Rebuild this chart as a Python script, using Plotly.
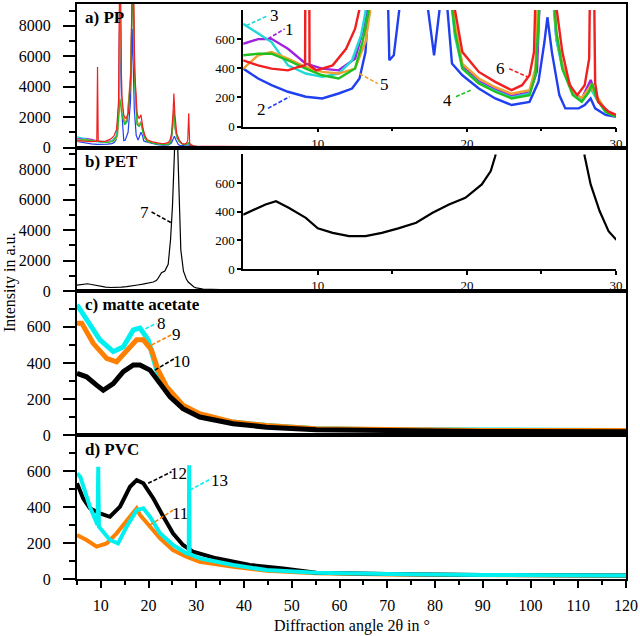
import plotly.graph_objects as go

FONT = "Liberation Serif"

# ---------------- data ----------------
# a) PP samples 1-6
pp1_x = [5, 6, 6.9, 8, 9.2, 10.3, 11.4, 12.5, 13.0, 13.3, 13.7, 14.0, 14.4, 15.0, 15.5, 16.2, 16.7, 17.1, 17.6, 18.0, 18.4, 18.8, 19.2, 19.7, 20.8, 21.9, 23.0, 24.2, 24.7, 25.0, 25.3, 25.6, 26.0, 26.4, 27.1, 27.7, 28.3, 28.7, 29.3, 30, 35, 40, 50]
pp1_y = [568, 600, 602, 534, 432, 398, 386, 466, 648, 807, 2500, 10500, 2800, 1600, 1800, 4500, 12000, 4500, 1600, 1500, 1700, 1100, 650, 420, 310, 255, 210, 235, 380, 1200, 2400, 1200, 600, 420, 240, 190, 320, 200, 110, 70, 60, 55, 45]

pp2_x = [5, 6, 6.9, 8, 9.2, 10.3, 11.4, 12.3, 12.8, 13.2, 13.5, 13.8, 14.05, 14.35, 14.8, 15.1, 15.7, 16.2, 16.6, 17.0, 17.4, 17.8, 18.1, 18.4, 18.7, 19.0, 19.7, 20.8, 21.9, 23.0, 24.2, 24.8, 25.2, 25.4, 25.7, 26.2, 26.6, 27.5, 27.9, 28.3, 28.6, 29.3, 30, 35, 40, 50]
pp2_y = [398, 330, 284, 239, 205, 193, 227, 261, 330, 511, 1000, 3000, 7600, 2500, 455, 489, 1000, 3000, 7800, 2500, 800, 489, 800, 1000, 800, 432, 352, 261, 193, 148, 170, 307, 580, 750, 511, 216, 125, 125, 148, 193, 125, 80, 68, 55, 50, 40]

pp3_x = [5, 6, 6.9, 8, 9.2, 10.3, 11.4, 12.3, 12.9, 13.2, 13.7, 14.0, 14.4, 15.0, 15.5, 16.2, 16.7, 17.1, 17.6, 18.0, 18.4, 18.8, 19.2, 19.7, 20.8, 21.9, 23.0, 24.2, 24.6, 25.0, 25.3, 25.6, 26.0, 26.4, 27.1, 27.7, 28.3, 28.7, 29.3, 30, 35, 40, 50]
pp3_y = [705, 640, 580, 420, 364, 341, 364, 455, 625, 784, 2300, 9800, 2600, 1500, 1700, 4300, 11500, 4300, 1500, 1400, 1600, 1000, 620, 400, 300, 245, 200, 225, 360, 1100, 2300, 1100, 600, 400, 230, 175, 260, 190, 100, 70, 60, 55, 45]

pp4_x = [5, 6, 6.9, 8, 9.2, 10.3, 11.4, 12.5, 13.0, 13.4, 13.7, 14.0, 14.35, 15.0, 15.5, 16.2, 16.7, 17.1, 17.6, 18.0, 18.4, 18.8, 19.2, 19.7, 20.8, 21.9, 23.0, 24.2, 24.6, 24.9, 25.3, 25.6, 26.0, 26.4, 27.1, 27.7, 28.2, 28.4, 28.7, 29.3, 30, 35, 40, 50]
pp4_y = [489, 500, 500, 455, 398, 352, 330, 398, 580, 784, 1800, 3200, 2200, 1500, 1700, 4300, 11000, 4300, 1500, 1400, 1600, 1000, 650, 398, 296, 239, 193, 216, 352, 900, 2500, 1200, 650, 398, 216, 170, 239, 296, 193, 102, 68, 60, 55, 45]

pp5_x = [5, 6, 6.9, 8, 9.2, 10.3, 11.4, 12.5, 13.2, 13.5, 13.8, 14.05, 14.4, 15.0, 15.5, 16.2, 16.7, 17.1, 17.6, 18.0, 18.4, 18.8, 19.2, 19.7, 20.8, 21.9, 23.0, 24.2, 24.6, 24.9, 25.3, 25.6, 26.0, 26.4, 27.1, 27.7, 28.3, 28.7, 29.3, 30, 35, 40, 50]
pp5_y = [398, 489, 511, 466, 409, 375, 364, 398, 580, 784, 2500, 11000, 2800, 1700, 1900, 4800, 12500, 4800, 1700, 1500, 1650, 1100, 700, 430, 330, 270, 225, 250, 400, 1000, 2500, 1200, 650, 420, 240, 195, 280, 210, 115, 75, 62, 57, 47]

pp6_x = [5, 6, 6.9, 8, 8.7, 9.15, 9.3, 9.45, 9.9, 11.0, 11.9, 12.5, 12.8, 13.3, 13.7, 14.0, 14.35, 14.8, 15.3, 15.8, 16.3, 16.7, 17.1, 17.6, 18.0, 18.4, 18.8, 19.2, 19.7, 20.8, 21.9, 23.0, 23.7, 24.2, 24.5, 24.8, 25.1, 25.3, 25.5, 25.9, 26.4, 26.9, 27.4, 27.9, 28.2, 28.4, 28.6, 28.8, 29.5, 30, 35, 40, 50]
pp6_y = [455, 420, 398, 386, 409, 420, 5300, 420, 386, 420, 534, 670, 807, 1200, 3000, 14000, 3500, 2100, 1900, 2300, 5000, 14000, 5000, 2200, 1900, 2150, 1300, 800, 511, 375, 307, 250, 284, 352, 511, 900, 2200, 3550, 2200, 900, 511, 284, 216, 284, 466, 2250, 300, 170, 102, 80, 70, 60, 50]

# b) PET sample 7
pet_x = [5, 6.5, 7.2, 8.05, 9.2, 10.0, 11.0, 12.1, 13.2, 14.3, 15.4, 16.6, 17.7, 18.8, 19.9, 21.0, 21.6, 21.9, 22.7, 23.4, 24.1, 24.6, 25.0, 25.35, 25.75, 26.1, 26.4, 26.75, 27.3, 27.9, 28.3, 28.9, 29.5, 30, 31.4, 35, 40, 50, 60, 80, 100, 120]
pet_y = [380, 451, 474, 428, 358, 285, 253, 230, 230, 253, 284, 323, 393, 451, 498, 591, 684, 788, 1200, 1310, 1750, 3400, 5600, 9400, 12000, 9400, 5600, 2700, 1300, 788, 591, 405, 265, 207, 130, 90, 75, 60, 50, 40, 35, 30]

# c) matte acetate samples 8-10
ma8_x = [5, 7.0, 9.8, 12.6, 14.7, 16.8, 18.2, 19.9, 21.7, 23.8, 27.2, 30.7, 37.7, 44.7, 55.1, 70, 90, 120]
ma8_y = [722, 639, 528, 463, 490, 583, 593, 528, 361, 250, 157, 111, 74, 55, 37, 32, 28, 28]
ma9_x = [5, 6, 8.4, 11.2, 13.3, 15.4, 17.5, 18.9, 20.6, 22.0, 23.8, 27.2, 30.7, 37.7, 44.7, 55.1, 70, 90, 120]
ma9_y = [620, 620, 509, 426, 407, 463, 528, 528, 472, 361, 268, 167, 120, 74, 55, 37, 32, 28, 28]
ma10_x = [5, 7.0, 9.1, 10.5, 12.6, 14.7, 16.8, 18.2, 20.3, 22.4, 24.5, 27.2, 30.7, 37.7, 44.7, 55.1, 70, 90, 120]
ma10_y = [343, 324, 278, 250, 287, 352, 389, 389, 361, 287, 213, 148, 102, 65, 46, 31, 25, 22, 20]

# d) PVC samples 11-13
pvc11_x = [5, 7.0, 9.1, 11.2, 13.3, 15.4, 17.5, 18.2, 20.3, 22.4, 25.1, 27.9, 30.7, 37.7, 44.7, 55.1, 70, 90, 120]
pvc11_y = [244, 217, 180, 198, 254, 328, 393, 356, 291, 226, 161, 124, 96, 68, 46, 32, 25, 20, 18]
pvc12_x = [5, 6.3, 7.7, 9.8, 11.9, 14.0, 16.1, 17.5, 18.9, 21.0, 23.1, 25.1, 27.2, 29.3, 34.2, 41.2, 48.2, 55.1, 70, 90, 120]
pvc12_y = [532, 448, 393, 365, 346, 402, 513, 550, 532, 448, 346, 254, 189, 152, 115, 78, 59, 35, 28, 22, 20]
pvc13_x = [5, 5.7, 7.7, 9.3, 9.45, 9.6, 11.9, 13.6, 15.4, 17.5, 18.9, 20.3, 22.4, 25.1, 27.9, 28.4, 28.5, 28.6, 30.7, 37.7, 44.7, 55.1, 70, 90, 120]
pvc13_y = [587, 568, 402, 300, 624, 290, 217, 198, 291, 383, 393, 346, 254, 189, 143, 140, 633, 138, 115, 78, 50, 35, 28, 22, 20]

# labels
panel_titles = ["a) PP", "b) PET", "c) matte acetate", "d) PVC"]
x_title = "Diffraction angle 2θ in °"
y_title = "Intensity in a.u."

C_PURPLE = "#A020E0"
C_BLUE = "#2040F0"
C_CYAN = "#20D8D8"
C_GREEN = "#20C020"
C_ORANGE_A = "#F0A030"
C_RED = "#F02020"
C_CYAN2 = "#00F0F0"
C_ORANGE = "#FF8000"
C_BLACK = "#000000"

pp_series = [
    (pp1_x, pp1_y, C_PURPLE),
    (pp2_x, pp2_y, C_BLUE),
    (pp3_x, pp3_y, C_CYAN),
    (pp5_x, pp5_y, C_ORANGE_A),
    (pp4_x, pp4_y, C_GREEN),
    (pp6_x, pp6_y, C_RED),
]

fig = go.Figure()

# panel a (main + inset)
for xs, ys, col in pp_series:
    fig.add_trace(go.Scatter(x=xs, y=ys, mode="lines", line=dict(color=col, width=1.2),
                             xaxis="x", yaxis="y"))
for xs, ys, col in pp_series:
    fig.add_trace(go.Scatter(x=xs, y=ys, mode="lines", line=dict(color=col, width=2.4),
                             xaxis="x5", yaxis="y5"))
# panel b (main + inset)
fig.add_trace(go.Scatter(x=pet_x, y=pet_y, mode="lines", line=dict(color=C_BLACK, width=1.2),
                         xaxis="x2", yaxis="y2"))
fig.add_trace(go.Scatter(x=pet_x, y=pet_y, mode="lines", line=dict(color=C_BLACK, width=2.2),
                         xaxis="x6", yaxis="y6"))
# panel c
for xs, ys, col in [(ma8_x, ma8_y, C_CYAN2), (ma9_x, ma9_y, C_ORANGE), (ma10_x, ma10_y, C_BLACK)]:
    fig.add_trace(go.Scatter(x=xs, y=ys, mode="lines", line=dict(color=col, width=5),
                             xaxis="x3", yaxis="y3"))
# panel d
for xs, ys, col in [(pvc11_x, pvc11_y, C_ORANGE), (pvc12_x, pvc12_y, C_BLACK), (pvc13_x, pvc13_y, C_CYAN2)]:
    fig.add_trace(go.Scatter(x=xs, y=ys, mode="lines", line=dict(color=col, width=4),
                             xaxis="x4", yaxis="y4"))

tickfont = dict(family=FONT, size=16, color="black")
small_font = dict(family=FONT, size=13, color="black")

doms = [[0.7504, 1.0], [0.5009, 0.7504], [0.2496, 0.5009], [0.0, 0.2496]]
yranges = [[0, 9440], [0, 9440], [0, 798], [0, 798]]
ymaj = [[0, 2000, 4000, 6000, 8000]] * 2 + [[0, 200, 400, 600]] * 2
ymin = [[1000, 3000, 5000, 7000, 9000]] * 2 + [[100, 300, 500, 700]] * 2

layout = dict(
    width=640, height=636,
    margin=dict(l=77, r=13, t=2, b=57),
    paper_bgcolor="white", plot_bgcolor="rgba(0,0,0,0)",
    showlegend=False,
    font=dict(family=FONT, color="black"),
)

for i in range(4):
    xn = "xaxis" if i == 0 else f"xaxis{i+1}"
    yn = "yaxis" if i == 0 else f"yaxis{i+1}"
    ya = "y" if i == 0 else f"y{i+1}"
    xa = "x" if i == 0 else f"x{i+1}"
    bottom = (i == 3)
    xd = dict(domain=[0, 1], range=[5, 120], anchor=ya, showline=True, mirror=True,
              linecolor="black", linewidth=2, showgrid=False, zeroline=False,
              showticklabels=bottom, ticks="outside" if bottom else "")
    if bottom:
        xd.update(tickmode="linear", tick0=0, dtick=10, ticklen=7, tickwidth=2,
                  tickcolor="black", tickfont=tickfont, ticklabelstandoff=4,
                  minor=dict(tickmode="linear", tick0=0, dtick=5, ticks="outside",
                             ticklen=4, tickwidth=2, tickcolor="black"))
    layout[xn] = xd
    layout[yn] = dict(domain=doms[i], range=yranges[i], anchor=xa, showline=True, mirror=True,
                      linecolor="black", linewidth=2, showgrid=False, zeroline=False,
                      ticks="outside", tickmode="array", tickvals=ymaj[i], ticklen=12,
                      tickwidth=2, tickcolor="black", tickfont=tickfont, ticklabelstandoff=9,
                      minor=dict(tickmode="array", tickvals=ymin[i], ticks="outside",
                                 ticklen=6, tickwidth=2, tickcolor="black"))

# insets
ins_xdom = [0.3027, 0.9818]
for k, (ydom) in zip([5, 6], [[0.7868, 0.9896], [0.539, 0.7383]]):
    layout[f"xaxis{k}"] = dict(domain=ins_xdom, range=[5, 30], anchor=f"y{k}", showline=True,
                               linecolor="black", linewidth=1.5, showgrid=False, zeroline=False,
                               ticks="outside", tickmode="array", tickvals=[10, 20, 30],
                               ticklen=4, tickwidth=1.5, tickcolor="black", tickfont=small_font,
                               minor=dict(tickmode="array", tickvals=[15, 25], ticks="outside",
                                          ticklen=3, tickwidth=1.5, tickcolor="black"))
    layout[f"yaxis{k}"] = dict(domain=ydom, range=[0, 800], anchor=f"x{k}", showline=True,
                               linecolor="black", linewidth=1.5, showgrid=False, zeroline=False,
                               ticks="outside", tickmode="array", tickvals=[0, 200, 400, 600],
                               ticklen=4, tickwidth=1.5, tickcolor="black", tickfont=small_font)

fig.update_layout(**layout)

annotations = []
# panel titles
for i, t in enumerate(panel_titles):
    xr = "x" if i == 0 else f"x{i+1}"
    yr = "y" if i == 0 else f"y{i+1}"
    annotations.append(dict(text="<b>" + t + "</b>", xref=xr + " domain", yref=yr + " domain",
                            x=0.011, y=0.905, xanchor="left", yanchor="middle", showarrow=False,
                            font=dict(family=FONT, size=17, color="black")))

# axis titles
annotations.append(dict(text=x_title, xref="paper", yref="paper", x=0.5, y=-0.0815,
                        xanchor="center", yanchor="middle", showarrow=False,
                        font=dict(family=FONT, size=16, color="black")))
annotations.append(dict(text=y_title, xref="paper", yref="paper", x=-0.122, y=0.5165,
                        xanchor="center", yanchor="middle", textangle=-90, showarrow=False,
                        font=dict(family=FONT, size=16, color="black")))

# sample number labels: (text, xref, yref, text_x, text_y, line_x0, line_y0, line_x1, line_y1, color)
labels = [
    ("3", "x5", "y5", 7.11, 763, 5.21, 693, 6.66, 761, C_CYAN),
    ("1", "x5", "y5", 8.11, 668, 6.66, 602, 7.78, 670, C_PURPLE),
    ("2", "x5", "y5", 6.22, 116, 6.66, 125, 8.11, 205, C_BLUE),
    ("5", "x5", "y5", 14.47, 286, 12.80, 363, 14.02, 295, C_ORANGE_A),
    ("4", "x5", "y5", 18.71, 182, 19.27, 205, 20.27, 250, C_GREEN),
    ("6", "x5", "y5", 22.28, 397, 22.84, 397, 24.06, 341, C_RED),
    ("7", "x2", "y2", 19.22, 5134, 20.62, 5200, 24.80, 4478, C_BLACK),
    ("8", "x3", "y3", 22.71, 620, 18.17, 574, 21.66, 620, C_CYAN2),
    ("9", "x3", "y3", 25.84, 556, 20.62, 500, 24.80, 556, C_ORANGE),
    ("10", "x3", "y3", 26.89, 407, 21.31, 361, 25.49, 426, C_BLACK),
    ("12", "x4", "y4", 26.18, 587, 19.91, 532, 24.80, 596, C_BLACK),
    ("11", "x4", "y4", 26.53, 365, 20.26, 300, 25.13, 383, C_ORANGE),
    ("13", "x4", "y4", 34.9, 550, 28.63, 494, 33.16, 559, C_CYAN2),
]
shapes = []
for t, xr, yr, tx, ty, x0, y0, x1, y1, col in labels:
    annotations.append(dict(text=t, xref=xr, yref=yr, x=tx, y=ty, xanchor="center",
                            yanchor="middle", showarrow=False,
                            font=dict(family=FONT, size=17, color="black")))
    shapes.append(dict(type="line", xref=xr, yref=yr, x0=x0, y0=y0, x1=x1, y1=y1,
                       line=dict(color=col, width=1.6, dash="4px,2px")))

fig.update_layout(annotations=annotations, shapes=shapes)
fig.write_html("out.html", config={"displayModeBar": False},
               post_script="document.body.style.margin='0';document.body.style.overflow='hidden';")
